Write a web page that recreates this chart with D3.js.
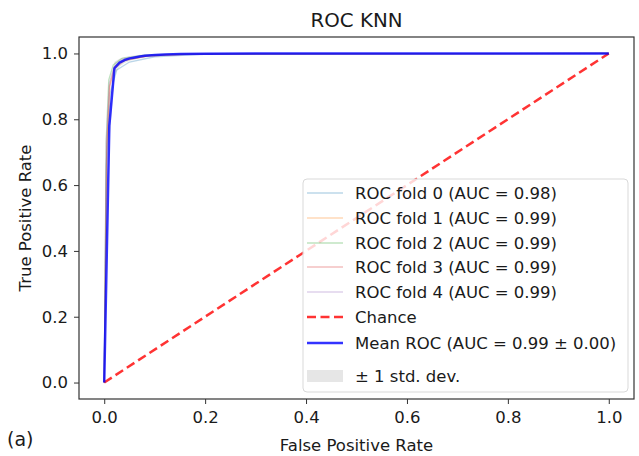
<!DOCTYPE html>
<html>
<head>
<meta charset="utf-8">
<script src="https://cdnjs.cloudflare.com/ajax/libs/d3/7.8.5/d3.min.js"></script>
<style>
  body { margin: 0; background: #fff; }
  text { font-family: "DejaVu Sans", sans-serif; fill: #1a1a1a; }
</style>
</head>
<body>
<div id="canvas"></div>
<script>
var title = 'ROC KNN';
var xTicks = [0, 0.2, 0.4, 0.6, 0.8, 1.0];
var yTicks = [0, 0.2, 0.4, 0.6, 0.8, 1.0];

// per-fold roc points
var foldNames = ['ROC fold 0 (AUC = 0.98)', 'ROC fold 1 (AUC = 0.99)', 'ROC fold 2 (AUC = 0.99)',
  'ROC fold 3 (AUC = 0.99)', 'ROC fold 4 (AUC = 0.99)'];
var foldColors = ['#1f77b4', '#ff7f0e', '#2ca02c', '#d62728', '#9467bd'];
var foldFpr = [
  [0, 0.004, 0.012, 0.025, 0.05, 0.1, 0.2, 1],
  [0, 0.005, 0.01, 0.02, 0.04, 0.09, 0.18, 1],
  [0, 0.004, 0.009, 0.018, 0.035, 0.08, 0.15, 1],
  [0, 0.005, 0.011, 0.021, 0.04, 0.085, 0.17, 1],
  [0, 0.004, 0.01, 0.02, 0.038, 0.08, 0.16, 1]
];
var foldTpr = [
  [0, 0.66, 0.88, 0.95, 0.974, 0.99, 0.998, 1],
  [0, 0.70, 0.90, 0.96, 0.98, 0.993, 0.999, 1],
  [0, 0.74, 0.92, 0.965, 0.985, 0.995, 0.999, 1],
  [0, 0.72, 0.90, 0.955, 0.978, 0.992, 0.998, 1],
  [0, 0.73, 0.91, 0.96, 0.982, 0.994, 0.999, 1]
];

// mean roc and std
var meanFpr = [0, 0.0101, 0.0202, 0.0303, 0.0404, 0.0505, 0.0606, 0.0707, 0.0808, 0.1010, 0.1212, 0.1515, 0.2020, 0.3030, 1.0];
var meanTpr = [0, 0.78, 0.955, 0.972, 0.980, 0.985, 0.988, 0.991, 0.993, 0.995, 0.997, 0.998, 0.999, 1.0, 1.0];
var stdTpr = [0, 0.05, 0.02, 0.012, 0.009, 0.007, 0.006, 0.005, 0.004, 0.003, 0.002, 0.001, 0.001, 0, 0];

var meanName = 'Mean ROC (AUC = 0.99 \u00b1 0.00)';
var chanceName = 'Chance';
var stdName = '\u00b1 1 std. dev.';

var W = 639, H = 456;
var mLeft = 79, mRight = 634, mTop = 37, mBottom = 399;
var fs = '16.5px';

var svg = d3.select('#canvas').append('svg')
  .attr('width', W)
  .attr('height', H);

var x = d3.scaleLinear().domain([-0.05, 1.05]).range([mLeft, mRight]);
var y = d3.scaleLinear().domain([-0.05, 1.05]).range([mBottom, mTop]);

var line = d3.line()
  .x(function(d) { return x(d[0]); })
  .y(function(d) { return y(d[1]); });

var plot = svg.append('g');

// fold curves
foldFpr.forEach(function(f, i) {
  var pts = f.map(function(v, j) { return [v, foldTpr[i][j]]; });
  plot.append('path')
    .attr('d', line(pts))
    .attr('fill', 'none')
    .attr('stroke', foldColors[i])
    .attr('stroke-width', 1.3)
    .attr('stroke-opacity', 0.3);
});

// chance line
plot.append('path')
  .attr('d', line([[0, 0], [1, 1]]))
  .attr('fill', 'none')
  .attr('stroke', 'red')
  .attr('stroke-opacity', 0.8)
  .attr('stroke-width', 2.5)
  .attr('stroke-dasharray', '9,4.5');

// std band
var band = meanFpr.map(function(v, j) {
  return [v, Math.max(meanTpr[j] - stdTpr[j], 0), Math.min(meanTpr[j] + stdTpr[j], 1)];
});
plot.append('path')
  .attr('d', d3.area()
    .x(function(d) { return x(d[0]); })
    .y0(function(d) { return y(d[1]); })
    .y1(function(d) { return y(d[2]); })(band))
  .attr('fill', 'grey')
  .attr('fill-opacity', 0.2);

// mean curve
plot.append('path')
  .attr('d', line(meanFpr.map(function(v, j) { return [v, meanTpr[j]]; })))
  .attr('fill', 'none')
  .attr('stroke', 'blue')
  .attr('stroke-opacity', 0.8)
  .attr('stroke-width', 2.5)
  .attr('stroke-linejoin', 'round');

// axes
var xAxis = svg.append('g')
  .attr('transform', 'translate(0,' + mBottom + ')')
  .call(d3.axisBottom(x).tickValues(xTicks).tickFormat(d3.format('.1f')).tickSizeOuter(0).tickSize(5).tickPadding(7));
var yAxis = svg.append('g')
  .attr('transform', 'translate(' + mLeft + ',0)')
  .call(d3.axisLeft(y).tickValues(yTicks).tickFormat(d3.format('.1f')).tickSizeOuter(0).tickSize(5).tickPadding(6));
[xAxis, yAxis].forEach(function(a) {
  a.select('.domain').remove();
  a.selectAll('line').attr('stroke', '#333').attr('stroke-width', 1);
  a.selectAll('text').style('font-size', fs).attr('fill', '#1a1a1a').style('font-family', '"DejaVu Sans", sans-serif');
});

// frame
svg.append('rect')
  .attr('x', mLeft).attr('y', mTop)
  .attr('width', mRight - mLeft).attr('height', mBottom - mTop)
  .attr('fill', 'none')
  .attr('stroke', '#333')
  .attr('stroke-width', 1.2);

// legend
var lg = svg.append('g');
lg.append('rect')
  .attr('x', 303).attr('y', 179)
  .attr('width', 325).attr('height', 213)
  .attr('rx', 4)
  .attr('fill', '#fff')
  .attr('fill-opacity', 0.8)
  .attr('stroke', '#d9d9d9')
  .attr('stroke-width', 1);

var rows = [193, 218, 243, 267, 292, 317, 343, 376];
foldNames.forEach(function(n, i) {
  lg.append('line')
    .attr('x1', 307).attr('x2', 343)
    .attr('y1', rows[i]).attr('y2', rows[i])
    .attr('stroke', foldColors[i])
    .attr('stroke-opacity', 0.3)
    .attr('stroke-width', 1.3);
});
lg.append('line')
  .attr('x1', 307).attr('x2', 343)
  .attr('y1', rows[5]).attr('y2', rows[5])
  .attr('stroke', 'red').attr('stroke-opacity', 0.8)
  .attr('stroke-width', 2.5).attr('stroke-dasharray', '9,4.5');
lg.append('line')
  .attr('x1', 307).attr('x2', 343)
  .attr('y1', rows[6]).attr('y2', rows[6])
  .attr('stroke', 'blue').attr('stroke-opacity', 0.8)
  .attr('stroke-width', 2.5);
lg.append('rect')
  .attr('x', 307).attr('y', rows[7] - 6)
  .attr('width', 36).attr('height', 12)
  .attr('fill', 'grey').attr('fill-opacity', 0.2);

var labels = foldNames.concat([chanceName, meanName, stdName]);
labels.forEach(function(t, i) {
  lg.append('text')
    .attr('x', 355).attr('y', rows[i])
    .attr('dy', '0.35em')
    .style('font-size', fs)
    .text(t);
});

// titles
svg.append('text')
  .attr('x', (mLeft + mRight) / 2).attr('y', 27)
  .attr('text-anchor', 'middle')
  .style('font-size', '19.8px')
  .text(title);
svg.append('text')
  .attr('x', (mLeft + mRight) / 2).attr('y', 451)
  .attr('text-anchor', 'middle')
  .style('font-size', fs)
  .text('False Positive Rate');
svg.append('text')
  .attr('transform', 'translate(31,' + ((mTop + mBottom) / 2) + ') rotate(-90)')
  .attr('text-anchor', 'middle')
  .style('font-size', fs)
  .text('True Positive Rate');
svg.append('text')
  .attr('x', 7).attr('y', 446)
  .style('font-size', '19px')
  .text('(a)');
</script>
</body>
</html>
